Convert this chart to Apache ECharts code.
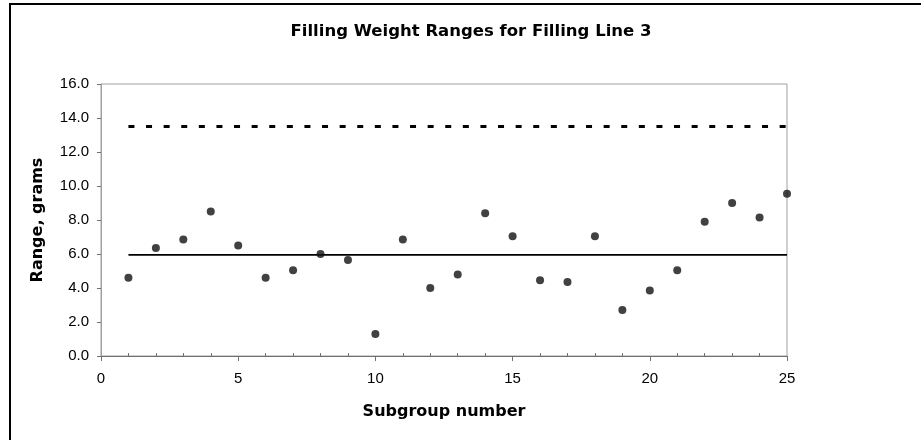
<!DOCTYPE html>
<html>
<head>
<meta charset="utf-8">
<script src="https://cdn.jsdelivr.net/npm/echarts@6/dist/echarts.min.js"></script>
<style>
html,body{margin:0;padding:0;background:#fff;}
#chart{width:921px;height:440px;}
</style>
</head>
<body>
<div id="chart"></div>
<script>
var subgroups = [1,2,3,4,5,6,7,8,9,10,11,12,13,14,15,16,17,18,19,20,21,22,23,24,25];
var ranges = [4.6,6.35,6.85,8.5,6.5,4.6,5.05,6.0,5.65,1.3,6.85,4.0,4.8,8.4,7.05,4.45,4.35,7.05,2.7,3.85,5.05,7.9,9.0,8.15,9.55];
var centerLine = 5.95;
var upperLimit = 13.5;
var xTicks = [0,5,10,15,20,25];
var yTicks = [0,2,4,6,8,10,12,14,16];

var points = subgroups.map(function(s,i){return [s, ranges[i]];});
var first = subgroups[0], last = subgroups[subgroups.length-1];
var minorTicks = subgroups.filter(function(v){return xTicks.indexOf(v) < 0;});

var chart = echarts.init(document.getElementById('chart'));
var font = 'Liberation Sans, Arial, sans-serif';
var boldFont = 'DejaVu Sans, Liberation Sans, sans-serif';
chart.setOption({
  animation:false,
  backgroundColor:'#fff',
  title:{
    text:'Filling Weight Ranges for Filling Line 3',
    left:466, top:18, textAlign:'center',
    textStyle:{fontFamily:boldFont, fontWeight:'bold', fontSize:16.5, color:'#000'}
  },
  graphic:[{
    type:'rect', shape:{x:10, y:4, width:960, height:500},
    style:{fill:'none', stroke:'#000', lineWidth:2}, silent:true
  }],
  grid:{left:101, top:84, right:134, bottom:84, show:true, borderColor:'#a0a0a0', borderWidth:1, backgroundColor:'transparent'},
  xAxis:[{
    type:'value', min:0, max:25, interval:5,
    name:'Subgroup number', nameLocation:'middle', nameGap:48,
    nameTextStyle:{fontFamily:boldFont, fontWeight:'bold', fontSize:16, color:'#000'},
    axisLine:{show:true, onZero:false, lineStyle:{color:'#707070', width:1}},
    axisTick:{show:true, inside:false, length:5, lineStyle:{color:'#707070'}},
    axisLabel:{fontFamily:font, fontSize:15, color:'#000', margin:15},
    splitLine:{show:false}
  },{
    type:'value', min:0, max:25, position:'bottom',
    axisLine:{show:false},
    axisTick:{show:true, inside:true, length:3, customValues:minorTicks, lineStyle:{color:'#707070'}},
    axisLabel:{show:false},
    splitLine:{show:false}
  }],
  yAxis:{
    type:'value', min:0, max:16, interval:2,
    name:'Range, grams', nameLocation:'middle', nameGap:55, nameRotate:90,
    nameTextStyle:{fontFamily:boldFont, fontWeight:'bold', fontSize:16, color:'#000'},
    axisLine:{show:true, lineStyle:{color:'#a0a0a0', width:1}},
    axisTick:{show:true, length:4, lineStyle:{color:'#707070'}},
    axisLabel:{fontFamily:font, fontSize:15, color:'#000', margin:12,
      formatter:function(v){return v.toFixed(1);}},
    splitLine:{show:false}
  },
  series:[{
    type:'line', data:[[first, upperLimit],[last, upperLimit]], symbol:'none',
    lineStyle:{color:'#000', width:3, type:[6,11.6], cap:'butt'}, z:2
  },{
    type:'line', data:[[first, centerLine],[last, centerLine]], symbol:'none',
    lineStyle:{color:'#000', width:1.8}, z:2
  },{
    type:'scatter', data:points, symbol:'circle', symbolSize:8,
    itemStyle:{color:'#111'}, z:3
  }]
});
</script>
</body>
</html>
